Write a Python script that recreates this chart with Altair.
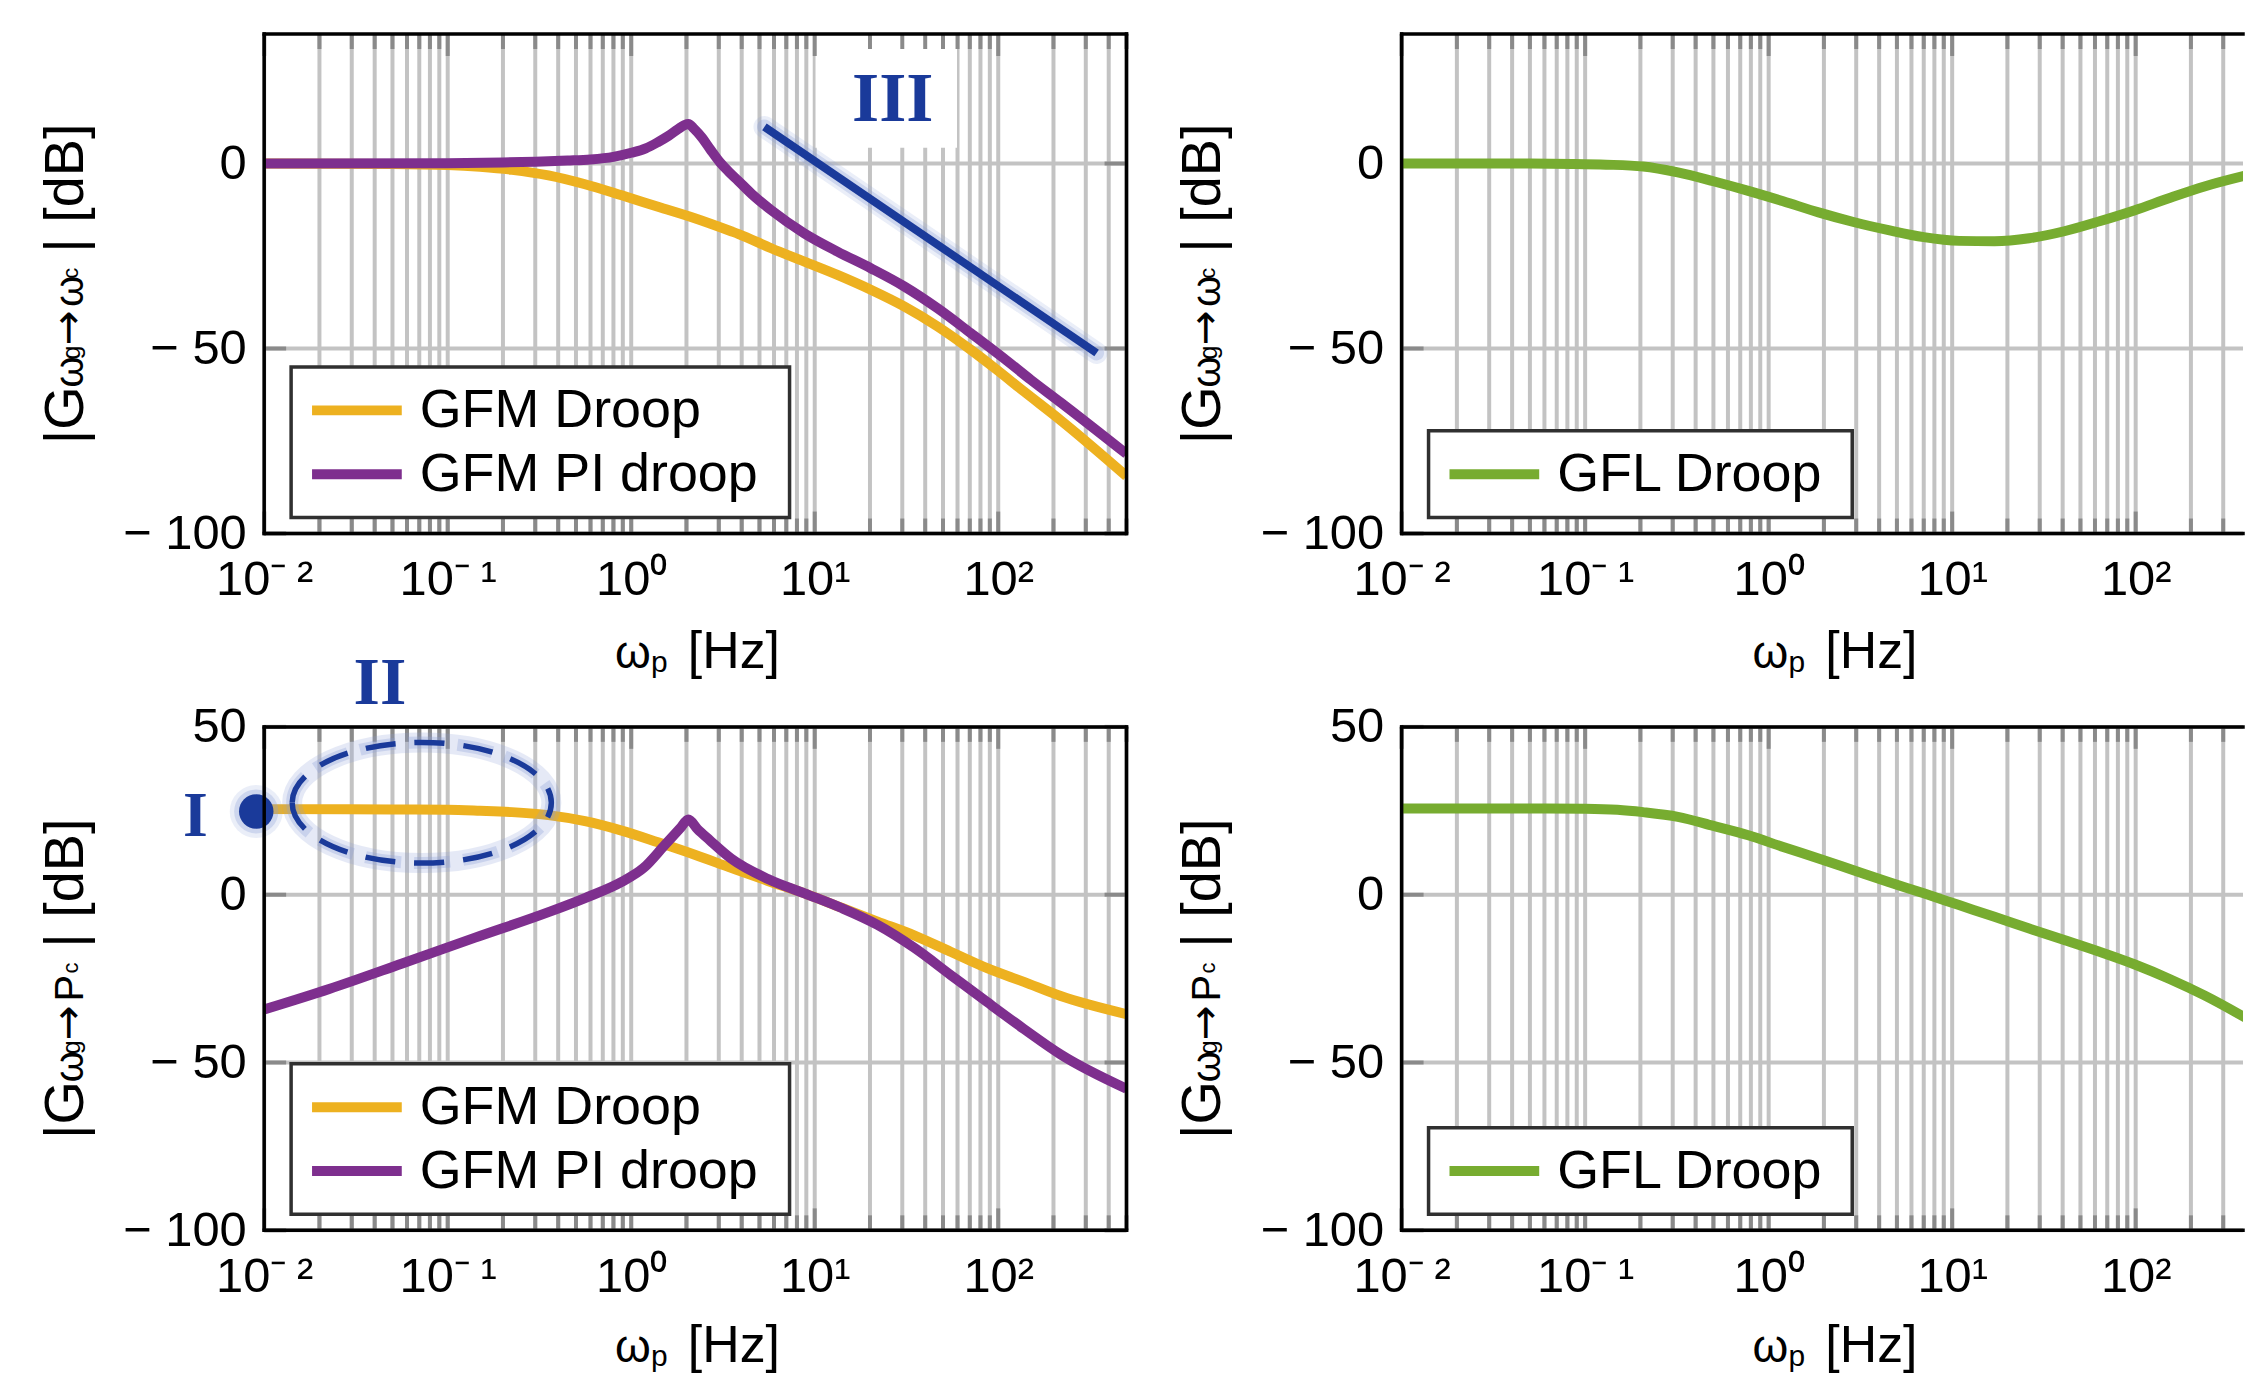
import math
import altair as alt
import pandas as pd

# ---------------- categories / tick labels ----------------
LEGEND_GFM = ["GFM Droop", "GFM PI droop"]
LEGEND_GFL = ["GFL Droop"]
X_TICKS = [0.01, 0.1, 1, 10, 100]
X_TICK_LABELS = ["10⁻\u2009²", "10⁻\u2009¹", "10⁰", "10¹", "10²"]
Y_TICKS_TOP = [-100, -50, 0]
Y_TICKS_BOT = [-100, -50, 0, 50]
Y_TICK_LABELS = ["− 100", "− 50", "0", "50"]
Y_TICK_LABEL_VALUES = [-100, -50, 0, 50]
ANNOT = ["I", "II", "III"]

# ---------------- series values ----------------
# top-left  |G wg->wc|
F_TL_DROOP = [0.01, 0.05, 0.1, 0.15, 0.224, 0.354, 0.56, 0.887, 1.4, 2.22, 3.5, 3.82, 5.79, 8.79,
              13.3, 20.2, 30.7, 46.6, 70.7, 98, 138, 219, 500]
DB_TL_DROOP = [0, -0.1, -0.4, -0.9, -1.7, -3.2, -5.6, -8.6, -11.7, -14.8, -18.3, -19.0, -22.9,
               -26.5, -30.1, -34.1, -38.6, -44.0, -50.3, -55.7, -61.6, -69.4, -84.5]
F_TL_PI = [0.01, 0.1, 0.2, 0.3, 0.45, 0.6, 0.8, 1.0, 1.2, 1.4, 1.6, 1.8, 1.95, 2.05, 2.2, 2.43,
           2.7, 3.06, 3.4, 3.82, 4.6, 5.79, 8.79, 13.3, 20.2, 30.7, 46.6, 70.7, 107, 150, 219, 500]
DB_TL_PI = [0, 0.1, 0.3, 0.5, 0.8, 1.1, 1.8, 2.9, 4.1, 5.8, 7.5, 9.3, 10.4, 10.7, 9.4, 7.0,
            3.8, 0.2, -2.2, -4.6, -8.5, -12.6, -18.9, -23.8, -28.3, -33.2, -39.1, -45.8, -52.6,
            -58.4, -64.6, -78.5]
# top-right |G wg->wc|
F_TR_GFL = [0.01, 0.05, 0.085, 0.13, 0.207, 0.32, 0.5, 0.775, 1.2, 1.87, 2.9, 4.5, 7.0, 10.9,
            17, 26.3, 40.8, 63.5, 99, 153, 237, 432]
DB_TR_GFL = [0, 0, -0.1, -0.3, -0.8, -2.4, -4.8, -7.4, -10.2, -13.2, -15.8, -18.0, -19.9, -20.9,
             -21.0, -20.2, -18.3, -15.6, -12.6, -9.3, -6.2, -2.8]
# bottom-left |G wg->Pc|
F_BL_DROOP = [0.01, 0.05, 0.1, 0.15, 0.224, 0.354, 0.56, 0.887, 1.4, 2.22, 3.5, 5.56, 8.8,
              13.9, 22, 34.8, 55, 87, 138, 219, 500]
DB_BL_DROOP = [25.5, 25.4, 25.3, 25.0, 24.6, 23.7, 21.9, 19.1, 15.6, 11.9, 8.0, 4.1, 0.4,
               -3.8, -8.0, -12.1, -17.0, -21.9, -26.0, -30.2, -35.6]
F_BL_PI = [0.01, 0.0226, 0.0565, 0.141, 0.354, 0.56, 0.887, 1.17, 1.53, 1.85, 2.05, 2.3, 2.67,
           3.5, 5.56, 8.8, 13.9, 22, 34.8, 55, 87, 138, 219, 500]
DB_BL_PI = [-34.2, -28.1, -20.5, -12.8, -5.2, -1.0, 3.8, 8.0, 14.9, 19.8, 22.4, 19.5, 16.3,
            10.8, 4.7, 0.4, -3.9, -9.0, -15.8, -23.9, -32.0, -40.0, -47.6, -57.8]
# bottom-right |G wg->Pc|
F_BR_GFL = [0.01, 0.05, 0.1, 0.15, 0.207, 0.32, 0.5, 0.775, 1.2, 1.87, 2.9, 4.5, 7.0, 10.9,
            17, 26.3, 40.8, 63.5, 99, 153, 237, 432]
DB_BR_GFL = [25.7, 25.7, 25.6, 25.3, 24.6, 23.2, 20.5, 17.7, 14.2, 10.8, 7.3, 3.8, 0.4, -3.1,
             -6.6, -10.1, -13.5, -17.0, -20.8, -25.1, -30.0, -37.8]
# annotation III asymptote
F_III = [5.32, 343.6]
DB_III = [9.9, -51.2]

# ---------------- style ----------------
FONT = "Liberation Sans, Arial, Helvetica, sans-serif"
ARROW_FONT = "DejaVu Sans, Liberation Sans, sans-serif"
SERIF = "Liberation Serif, Times New Roman, serif"
C_DROOP = "#EDB120"
C_PI = "#7E2F8E"
C_GFL = "#77AC30"
C_BLUE = "#1A3A9A"
C_GLOW = "#8C9FD8"
C_GRID = "#c3c3c3"
C_TICK = "#8a8a8a"

W = 865
W_R = 844
H_TOP = 501
H_BOT = 505
DEC = W / (math.log10(500) - math.log10(0.01))
XMAX_L = 500
XMAX_R = 10 ** (-2 + W_R / DEC)

ONE = pd.DataFrame({"k": [0]})


def label_expr(vals, labels):
    parts = [f"datum.value == {v} ? '{l}'" for v, l in zip(vals, labels)]
    return " : ".join(parts) + " : ''"


def panel(w, h, xmax, ydom, yticks, lines, legend, sub2, right_border, extra, xt_dy):
    xaxis = alt.Axis(values=X_TICKS, labelExpr=label_expr(X_TICKS, X_TICK_LABELS), ticks=False,
                     tickSize=0, domain=False, grid=False, labelFont=FONT, labelFontSize=49,
                     labelColor="black", labelPadding=22, labelFlush=False, labelOverlap=False,
                     title=None)
    yaxis = alt.Axis(values=yticks, labelExpr=label_expr(Y_TICK_LABEL_VALUES, Y_TICK_LABELS),
                     ticks=False, tickSize=0, domain=False, grid=False, labelFont=FONT,
                     labelFontSize=49, labelColor="black", labelPadding=18, labelFlush=False,
                     labelOverlap=False, title=None)
    X = alt.X("f:Q", scale=alt.Scale(type="log", domain=[0.01, xmax], nice=False), axis=xaxis)
    X2 = alt.X2("f2:Q")
    Y = alt.Y("dB:Q", scale=alt.Scale(domain=ydom, nice=False, zero=False), axis=yaxis)
    Y2 = alt.Y2("dB2:Q")

    grid_x = [m * 10 ** k for k in range(-2, 3) for m in range(1, 10) if m * 10 ** k <= xmax + 1e-9]
    minor_x = [v for v in grid_x if v not in X_TICKS]
    gx = pd.DataFrame({"f": grid_x})
    gmin = pd.DataFrame({"f": minor_x})
    gmaj = pd.DataFrame({"f": X_TICKS})
    gy = pd.DataFrame({"dB": yticks})

    L = []
    # grid
    L.append(alt.Chart(gx).mark_rule(color=C_GRID, strokeWidth=4).encode(
        x=X, y=alt.value(0), y2=alt.value(h)))
    L.append(alt.Chart(gy).mark_rule(color=C_GRID, strokeWidth=4).encode(
        y=Y, x=alt.value(0), x2=alt.value(w)))
    # white box behind III
    for e in extra:
        if e["kind"] == "box":
            L.append(alt.Chart(pd.DataFrame({"f": [e["f"][0]], "f2": [e["f"][1]],
                                             "dB": [e["dB"][0]], "dB2": [e["dB"][1]]}))
                     .mark_rect(color="white").encode(x=X, x2=X2, y=Y, y2=Y2))
    # inward ticks
    tk = dict(color=C_TICK, strokeWidth=4)
    L.append(alt.Chart(gmin).mark_rule(**tk).encode(x=X, y=alt.value(0), y2=alt.value(15)))
    L.append(alt.Chart(gmin).mark_rule(**tk).encode(x=X, y=alt.value(h - 15), y2=alt.value(h)))
    L.append(alt.Chart(gmaj).mark_rule(**tk).encode(x=X, y=alt.value(0), y2=alt.value(22)))
    L.append(alt.Chart(gmaj).mark_rule(**tk).encode(x=X, y=alt.value(h - 22), y2=alt.value(h)))
    L.append(alt.Chart(gy).mark_rule(**tk).encode(y=Y, x=alt.value(0), x2=alt.value(22)))
    if right_border:
        L.append(alt.Chart(gy).mark_rule(**tk).encode(y=Y, x=alt.value(w - 22), x2=alt.value(w)))
    # data lines
    for fs, dbs, col in lines:
        L.append(alt.Chart(pd.DataFrame({"f": fs, "dB": dbs}))
                 .mark_line(color=col, strokeWidth=10, interpolate="monotone", clip=True)
                 .encode(x=X, y=Y))
    # blue annotations
    for e in extra:
        if e["kind"] == "line":
            d = pd.DataFrame({"f": e["f"], "dB": e["dB"]})
            L.append(alt.Chart(d).mark_line(color=C_GLOW, strokeWidth=22, opacity=0.18,
                                            strokeCap="round").encode(x=X, y=Y))
            L.append(alt.Chart(d).mark_line(color=C_GLOW, strokeWidth=15, opacity=0.3,
                                            strokeCap="round").encode(x=X, y=Y))
            L.append(alt.Chart(d).mark_line(color=C_BLUE, strokeWidth=8).encode(x=X, y=Y))
        elif e["kind"] == "dot":
            d = pd.DataFrame({"f": [e["f"]], "dB": [e["dB"]]})
            for r, op in [(30, 0.18), (25, 0.3)]:
                L.append(alt.Chart(d).mark_point(shape="circle", filled=True, color=C_GLOW,
                                                 opacity=op, size=math.pi * r * r).encode(x=X, y=Y))
            L.append(alt.Chart(d).mark_point(shape="circle", filled=True, color=C_BLUE, opacity=1,
                                             size=math.pi * 19.5 * 19.5).encode(x=X, y=Y))
        elif e["kind"] == "ellipse":
            d = pd.DataFrame({"f": [e["f"]], "dB": [e["dB"]]})
            ry = e["b"] / e["a"]
            path = f"M-1,0A1,{ry:.4f},0,1,0,1,0A1,{ry:.4f},0,1,0,-1,0Z"
            size = (2 * e["a"]) ** 2
            L.append(alt.Chart(d).mark_point(shape=path, filled=False, color=C_GLOW, opacity=0.22,
                                             strokeWidth=20, size=size).encode(x=X, y=Y))
            L.append(alt.Chart(d).mark_point(shape=path, filled=False, color=C_GLOW, opacity=0.3,
                                             strokeWidth=12, strokeDash=[36, 13],
                                             size=size).encode(x=X, y=Y))
            L.append(alt.Chart(d).mark_point(shape=path, filled=False, color=C_BLUE, opacity=1,
                                             strokeWidth=5.5, strokeDash=[30, 19],
                                             size=size).encode(x=X, y=Y))
        elif e["kind"] == "text":
            d = pd.DataFrame({"f": [e["f"]], "dB": [e["dB"]], "t": [e["text"]]})
            L.append(alt.Chart(d).mark_text(font=SERIF, fontWeight="bold", fontSize=e["size"],
                                            color=C_BLUE, align="center", baseline="alphabetic")
                     .encode(x=X, y=Y, text="t:N"))
    # legend box
    n = len(legend)
    box_h = 151 if n == 2 else 87
    box_r = 527 if n == 2 else 452
    y_bot = h - 16
    y_top = y_bot - box_h
    L.append(alt.Chart(ONE).mark_rect(fill="white", stroke="#303030", strokeWidth=3.5).encode(
        x=alt.value(27), x2=alt.value(box_r), y=alt.value(y_top), y2=alt.value(y_bot)))
    for i, (name, col) in enumerate(legend):
        cy = y_top + 43.5 + 64 * i
        L.append(alt.Chart(ONE).mark_rule(color=col, strokeWidth=10).encode(
            x=alt.value(48), x2=alt.value(138), y=alt.value(cy)))
        L.append(alt.Chart(ONE).mark_text(text=name, font=FONT, fontSize=54, color="black",
                                          align="left", baseline="alphabetic").encode(
            x=alt.value(156), y=alt.value(cy + 17)))
    # frame
    cap = "square"
    fr = dict(color="black", strokeWidth=3.5)
    L.append(alt.Chart(ONE).mark_rule(strokeCap=cap, **fr).encode(
        x=alt.value(0), x2=alt.value(w), y=alt.value(0)))
    L.append(alt.Chart(ONE).mark_rule(strokeCap=cap, **fr).encode(
        x=alt.value(0), x2=alt.value(w), y=alt.value(h)))
    L.append(alt.Chart(ONE).mark_rule(strokeCap=cap, **fr).encode(
        x=alt.value(0), y=alt.value(0), y2=alt.value(h)))
    if right_border:
        L.append(alt.Chart(ONE).mark_rule(strokeCap=cap, **fr).encode(
            x=alt.value(w), y=alt.value(0), y2=alt.value(h)))
    # y title pieces: |G_{w_g -> sub2_c}| [dB]   (rotated, read bottom to top)
    c = h / 2
    pieces = [
        ("|G", FONT, 56, -182, c + 161, "alphabetic"),
        ("ω", FONT, 40, -182, c + 104, "alphabetic"),
        ("g", FONT, 25, -185, c + 76, "alphabetic"),
        ("→", ARROW_FONT, 42, -196, c + 62, "middle"),
        (sub2, FONT, 40, -182, c + 23, "alphabetic"),
        ("c", FONT, 22, -187, c - 5, "alphabetic"),
        ("| [dB]", FONT, 56, -182, c - 31, "alphabetic"),
    ]
    for t, fnt, fs, px, py, bl in pieces:
        L.append(alt.Chart(ONE).mark_text(text=t, font=fnt, fontSize=fs, color="black", angle=270,
                                          align="left", baseline=bl).encode(
            x=alt.value(px), y=alt.value(py)))
    # x title pieces: w_p [Hz]
    for t, fs, px, dy in [("ω", 46, 352, 0), ("p", 30, 388, 4), ("[Hz]", 52, 425, 0)]:
        L.append(alt.Chart(ONE).mark_text(text=t, font=FONT, fontSize=fs, color="black",
                                          align="left", baseline="alphabetic").encode(
            x=alt.value(px), y=alt.value(h + xt_dy + dy)))
    return alt.layer(*L).properties(width=w, height=h)


tl = panel(W, H_TOP, XMAX_L, [-100, 35], Y_TICKS_TOP,
           [(F_TL_DROOP, DB_TL_DROOP, C_DROOP), (F_TL_PI, DB_TL_PI, C_PI)],
           [(LEGEND_GFM[0], C_DROOP), (LEGEND_GFM[1], C_PI)], "ω", True,
           [{"kind": "box", "f": [10.1, 59.6], "dB": [35, 4.3]},
            {"kind": "line", "f": F_III, "dB": DB_III},
            {"kind": "text", "f": 26.6, "dB": 11.55, "text": ANNOT[2], "size": 70}], 135)
tr = panel(W_R, H_TOP, XMAX_R, [-100, 35], Y_TICKS_TOP,
           [(F_TR_GFL, DB_TR_GFL, C_GFL)],
           [(LEGEND_GFL[0], C_GFL)], "ω", False, [], 135)
bl = panel(W, H_BOT, XMAX_L, [-100, 50], Y_TICKS_BOT,
           [(F_BL_DROOP, DB_BL_DROOP, C_DROOP), (F_BL_PI, DB_BL_PI, C_PI)],
           [(LEGEND_GFM[0], C_DROOP), (LEGEND_GFM[1], C_PI)], "P", True,
           [{"kind": "ellipse", "f": 0.0722, "dB": 27.4, "a": 130, "b": 60.5},
            {"kind": "dot", "f": 0.00905, "dB": 24.8},
            {"kind": "text", "f": 0.00422, "dB": 17.6, "text": ANNOT[0], "size": 64},
            {"kind": "text", "f": 0.0427, "dB": 56.8, "text": ANNOT[1], "size": 68}], 132)
br = panel(W_R, H_BOT, XMAX_R, [-100, 50], Y_TICKS_BOT,
           [(F_BR_GFL, DB_BR_GFL, C_GFL)],
           [(LEGEND_GFL[0], C_GFL)], "P", False, [], 132)

chart = alt.concat(tl, tr, bl, br, columns=2, spacing={"row": 194, "column": 276},
                   bounds="flush").properties(
    padding={"left": 30, "top": 21, "right": 0, "bottom": 0},
    background="white",
).configure_view(stroke=None)

chart.save("out.html", embed_options={"renderer": "svg", "actions": False})
